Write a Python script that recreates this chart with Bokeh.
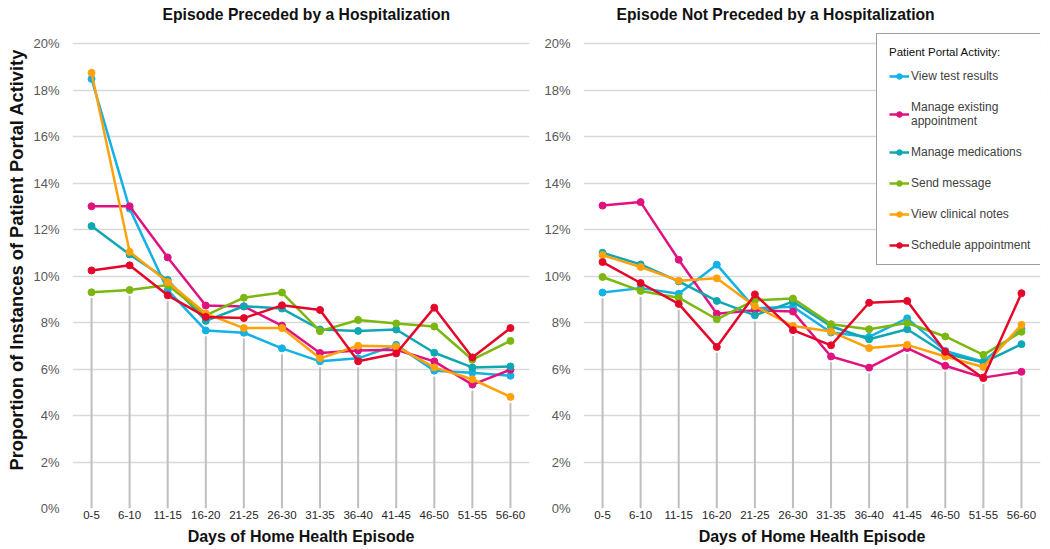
from bokeh.plotting import figure
from bokeh.layouts import row
from bokeh.models import Range1d, FactorRange, PrintfTickFormatter, Legend, LegendItem, FixedTicker, Title
from bokeh.embed import file_html
from bokeh.resources import INLINE

cats = ["0-5", "6-10", "11-15", "16-20", "21-25", "26-30", "31-35", "36-40", "41-45", "46-50", "51-55", "56-60"]

series_names = ["View test results", "Manage existing\nappointment", "Manage medications",
                "Send message", "View clinical notes", "Schedule appointment"]
series_colors = ["#12B1E6", "#E0127F", "#10A7B5", "#7CB70F", "#FFA20A", "#E5072A"]

# Episode preceded by a hospitalization (%)
pre_view_test = [18.48, 12.90, 9.39, 7.66, 7.56, 6.89, 6.33, 6.46, 7.04, 5.93, 5.84, 5.71]
pre_manage_appt = [13.00, 13.00, 10.80, 8.73, 8.69, 7.87, 6.69, 6.80, 6.83, 6.33, 5.33, 5.97]
pre_manage_meds = [12.15, 10.93, 9.83, 8.07, 8.70, 8.60, 7.70, 7.64, 7.70, 6.70, 6.07, 6.11]
pre_send_msg = [9.30, 9.40, 9.61, 8.31, 9.07, 9.29, 7.63, 8.11, 7.96, 7.83, 6.40, 7.21]
pre_clinical_notes = [18.74, 11.04, 9.74, 8.39, 7.76, 7.76, 6.46, 7.00, 6.97, 6.07, 5.56, 4.80]
pre_schedule = [10.24, 10.46, 9.17, 8.24, 8.19, 8.74, 8.54, 6.33, 6.67, 8.64, 6.50, 7.76]

# Episode not preceded by a hospitalization (%)
not_view_test = [9.29, 9.48, 9.24, 10.49, 8.61, 8.68, 7.57, 7.38, 8.18, 6.78, 6.32, 7.74]
not_manage_appt = [13.03, 13.18, 10.70, 8.38, 8.53, 8.47, 6.54, 6.06, 6.90, 6.14, 5.63, 5.88]
not_manage_meds = [11.00, 10.50, 9.77, 8.93, 8.31, 8.90, 7.84, 7.28, 7.71, 6.67, 6.28, 7.07]
not_send_msg = [9.96, 9.36, 9.07, 8.14, 8.96, 9.03, 7.93, 7.71, 7.98, 7.40, 6.61, 7.60]
not_clinical_notes = [10.90, 10.39, 9.80, 9.90, 8.70, 7.85, 7.61, 6.90, 7.04, 6.54, 6.09, 7.90]
not_schedule = [10.60, 9.70, 8.80, 6.95, 9.21, 7.67, 7.02, 8.85, 8.93, 6.74, 5.61, 9.26]

pre_series = [pre_view_test, pre_manage_appt, pre_manage_meds, pre_send_msg, pre_clinical_notes, pre_schedule]
not_series = [not_view_test, not_manage_appt, not_manage_meds, not_send_msg, not_clinical_notes, not_schedule]

y_ticks = [0, 2, 4, 6, 8, 10, 12, 14, 16, 18, 20]
y_label = "Proportion of Instances of Patient Portal Activity"
FONT = "Liberation Sans"


def make_panel(title, series, width, border_left, border_right, title_offset, show_ylabel):
    p = figure(x_range=FactorRange(*cats, range_padding=0), y_range=Range1d(0, 20.82),
               width=width, height=549, output_backend="svg", toolbar_location=None,
               min_border_left=border_left, min_border_right=border_right,
               min_border_top=24, min_border_bottom=41)
    p.outline_line_color = None
    p.background_fill_color = "white"
    p.border_fill_color = "white"
    p.title.text = title
    p.title.text_font = FONT
    p.title.text_font_size = "15.7px"
    p.title.text_font_style = "bold"
    p.title.text_color = "#111111"
    p.title.align = "left"
    p.title.offset = title_offset
    p.title.standoff = 4

    p.xgrid.grid_line_color = None
    p.ygrid.grid_line_color = "#D9D9D9"
    p.ygrid.grid_line_width = 1.5

    p.yaxis.ticker = FixedTicker(ticks=y_ticks)
    p.yaxis.formatter = PrintfTickFormatter(format="%d%%")
    for ax in (p.xaxis[0], p.yaxis[0]):
        ax.axis_line_color = None
        ax.major_tick_line_color = None
        ax.minor_tick_line_color = None
        ax.major_tick_out = 0
        ax.major_tick_in = 0
        ax.minor_tick_out = 0
        ax.minor_tick_in = 0
    p.yaxis.major_label_text_font = FONT
    p.yaxis.major_label_text_font_size = "13px"
    p.yaxis.major_label_text_color = "#595959"
    p.yaxis.major_label_standoff = 13
    p.xaxis.major_label_text_font = FONT
    p.xaxis.major_label_text_font_size = "11.5px"
    p.xaxis.major_label_text_color = "#262626"
    p.xaxis.major_label_standoff = 2
    p.xaxis.axis_label = "Days of Home Health Episode"
    p.xaxis.axis_label_text_font = FONT
    p.xaxis.axis_label_text_font_size = "16px"
    p.xaxis.axis_label_text_font_style = "bold"
    p.xaxis.axis_label_text_color = "#111111"
    p.xaxis.axis_label_standoff = 6
    if show_ylabel:
        yt = Title(text=y_label, align="left", offset=38, standoff=7,
                   text_font=FONT, text_font_size="18.3px", text_font_style="bold",
                   text_color="#111111")
        p.add_layout(yt, "left")

    # drop lines from just below the lowest point down to the axis
    tops = [min(vals) - 0.25 for vals in zip(*series)]
    p.segment(x0=cats, y0=[0] * len(cats), x1=cats, y1=tops, line_color="#BFBFBF", line_width=2)

    renderers = []
    for vals, color in zip(series, series_colors):
        ln = p.line(cats, vals, line_color=color, line_width=2.5)
        sc = p.scatter(cats, vals, size=7, fill_color=color, line_color=color)
        renderers.append((ln, sc))
    return p, renderers


left, _ = make_panel("Episode Preceded by a Hospitalization", pre_series, 535, 72, 6, 90, True)
right, rends = make_panel("Episode Not Preceded by a Hospitalization", not_series, 513, 48, 8, 33, False)

items = [LegendItem(label=name, renderers=[ln, sc]) for name, (ln, sc) in zip(series_names, rends)]
legend = Legend(items=items, location=(293, 243), title="Patient Portal Activity:",
                title_text_font=FONT, title_text_font_size="11.5px", title_text_color="#111111",
                title_text_font_style="normal", title_standoff=11,
                label_text_font=FONT, label_text_font_size="12px", label_text_color="#404040",
                glyph_width=20, glyph_height=14, label_standoff=2, spacing=17,
                padding=12, margin=0, border_line_color="#404040", border_line_width=1,
                background_fill_alpha=1.0)
right.add_layout(legend, "center")

layout = row(left, right)
open("out.html", "w").write(file_html(layout, INLINE))
